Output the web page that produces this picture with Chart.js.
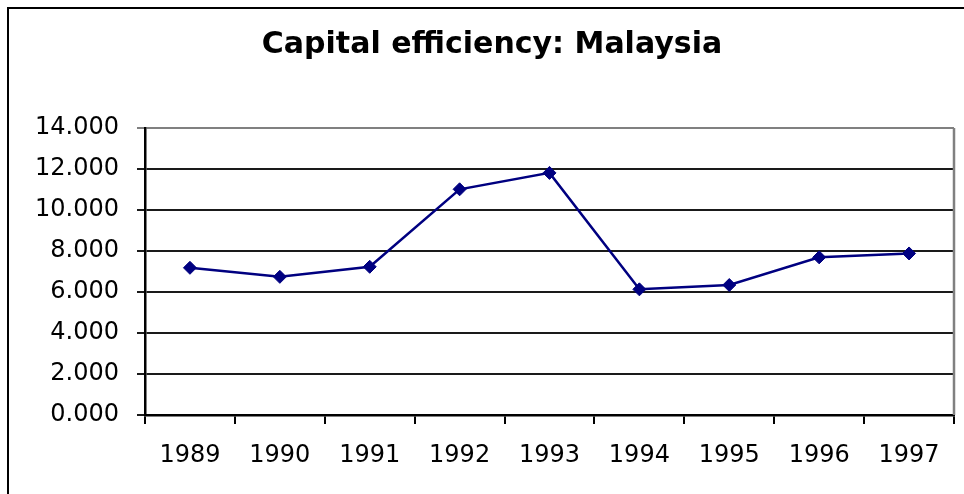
<!DOCTYPE html>
<html>
<head>
<meta charset="utf-8">
<script src="https://cdn.jsdelivr.net/npm/chart.js@4"></script>
<style>
  html, body { margin: 0; padding: 0; background: #fff; }
  canvas { display: block; }
</style>
</head>
<body>
<canvas id="chart" width="964" height="494"></canvas>
<script>
// values
const years = ['1989', '1990', '1991', '1992', '1993', '1994', '1995', '1996', '1997'];
const efficiency = [7.18, 6.74, 7.23, 11.01, 11.81, 6.13, 6.34, 7.69, 7.88];
const yTicks = [0, 2, 4, 6, 8, 10, 12, 14];

const frame = {
  id: 'frame',
  beforeDraw(chart) {
    const c = chart.ctx;
    c.save();
    c.fillStyle = '#fff';
    c.fillRect(0, 0, chart.width, chart.height);
    c.strokeStyle = '#000';
    c.lineWidth = 2;
    c.beginPath();
    c.moveTo(8, chart.height);
    c.lineTo(8, 8);
    c.lineTo(chart.width, 8);
    c.stroke();
    c.restore();
  },
  beforeDatasetsDraw(chart) {
    const a = chart.chartArea;
    const c = chart.ctx;
    c.save();
    c.strokeStyle = '#808080';
    c.lineWidth = 2.5;
    c.beginPath();
    c.moveTo(a.right, a.bottom);
    c.lineTo(a.right, a.top);
    c.stroke();
    c.restore();
  }
};

new Chart(document.getElementById('chart'), {
  type: 'line',
  data: {
    labels: years,
    datasets: [{
      label: 'Capital efficiency',
      data: efficiency,
      borderColor: '#000080',
      backgroundColor: '#000080',
      borderWidth: 2.5,
      pointStyle: 'rectRot',
      pointRadius: 6.5,
      pointBorderWidth: 1,
      tension: 0
    }]
  },
  options: {
    responsive: false,
    animation: false,
    layout: { padding: { left: 30, right: 10, top: 0, bottom: 0 } },
    plugins: {
      legend: { display: false },
      tooltip: { enabled: false },
      title: {
        display: true,
        text: 'Capital efficiency: Malaysia',
        color: '#000',
        font: { family: '"DejaVu Sans", sans-serif', size: 30, weight: 'bold', lineHeight: 1.2 },
        padding: { top: 27, bottom: 65 }
      }
    },
    scales: {
      x: {
        offset: true,
        grid: {
          offset: true,
          drawOnChartArea: false,
          drawTicks: true,
          tickLength: 9,
          color: '#000',
          lineWidth: 2
        },
        border: { color: '#000', width: 2.5 },
        ticks: {
          color: '#000',
          padding: 17,
          maxRotation: 0,
          font: { family: '"DejaVu Sans", sans-serif', size: 24 }
        },
        afterFit(scale) { scale.height = 79; }
      },
      y: {
        min: 0,
        max: 14,
        afterBuildTicks(scale) { scale.ticks = yTicks.map(v => ({ value: v })); },
        grid: {
          tickLength: 8,
          lineWidth: 2,
          color: ctx => (ctx.tick && ctx.tick.value === 14 ? '#808080' : '#1a1a1a')
        },
        border: { color: '#000', width: 2.5 },
        ticks: {
          color: '#000',
          padding: 18,
          font: { family: '"DejaVu Sans", sans-serif', size: 24 },
          callback: v => Number(v).toFixed(3)
        },
        afterFit(scale) { scale.width = 115; }
      }
    }
  },
  plugins: [frame]
});
</script>
</body>
</html>
